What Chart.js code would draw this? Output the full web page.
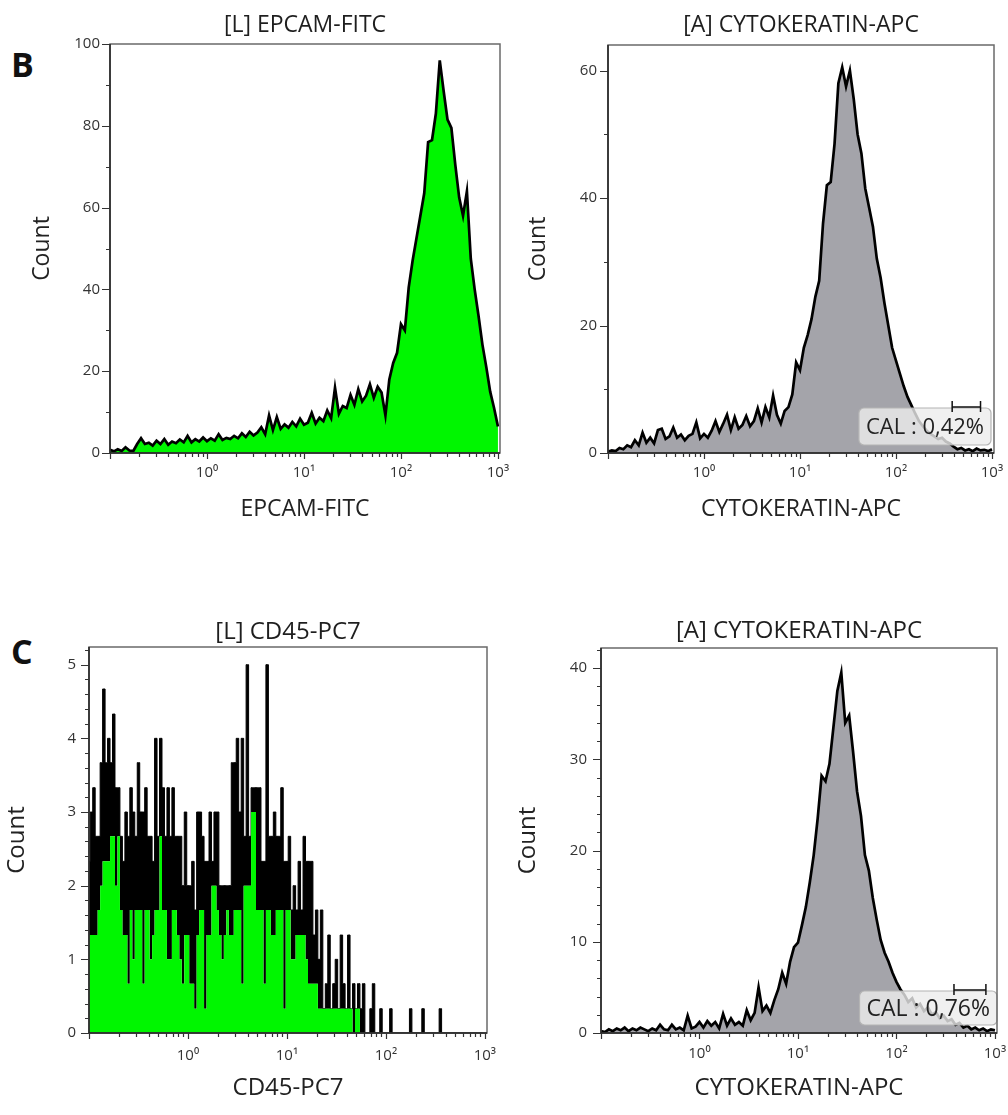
<!DOCTYPE html>
<html>
<head>
<meta charset="utf-8">
<script src="https://cdn.jsdelivr.net/npm/chart.js@4.4.1/dist/chart.umd.min.js"></script>
<style>
  html, body { margin: 0; padding: 0; background: #fff; }
  #wrap { position: relative; width: 1008px; height: 1115px; overflow: hidden; }
  canvas { position: absolute; }
  .tag { position: absolute; font: bold 34px "Open Sans", sans-serif; line-height: 1; color: #111; }
</style>
</head>
<body>
<div id="wrap">
  <div class="tag" style="left:11px; top:47px">B</div>
  <div class="tag" style="left:11px; top:634px">C</div>
  <canvas id="bLeft"></canvas>
  <canvas id="bRight"></canvas>
  <canvas id="cLeft"></canvas>
  <canvas id="cRight"></canvas>
</div>
<script>
// histograms are read off the picture, one value per bin
// smooth ones use 0.04 decade bins, CD45 uses 0.025 decade bins starting at 10^-1
const LOG_START = -1
const BIN_STEP = 0.04
const CD45_STEP = 0.025

// [L] EPCAM-FITC
const epcamCounts = [
  0.8, 0.4, 0.9, 0.5, 1.4, 0.6, 0.5, 2.2, 3.6, 2.2,
  2.5, 1.8, 3.0, 2.2, 3.4, 2.0, 2.8, 2.4, 3.3, 2.6,
  4.2, 2.6, 3.4, 2.8, 3.8, 2.9, 3.6, 3.0, 4.6, 3.2,
  3.7, 3.4, 4.2, 3.6, 4.8, 3.9, 5.2, 4.3, 5.0, 6.3,
  4.6, 9.2, 5.6, 8.8, 5.9, 7.0, 6.2, 7.6, 6.5, 8.4,
  6.9, 7.4, 9.8, 7.2, 8.6, 7.8, 10.4, 8.5, 16.0, 9.6,
  11.5, 11.0, 14.2, 11.8, 15.6, 12.6, 14.0, 16.8, 13.5, 16.2,
  14.8, 9.2, 18.0, 22.0, 24.5, 31.5, 30.0, 40.5, 47.0, 52.5,
  58.0, 63.5, 76.0, 76.5, 83.0, 96.0, 88.5, 81.5, 79.5, 70.5,
  62.5, 58.0, 64.0, 47.5, 40.0, 33.5, 26.5, 21.0, 15.0, 11.0,
  6.5
]

// [A] CYTOKERATIN-APC, panel B
const ckBCounts = [
  0.2, 0.4, 0.3, 0.8, 0.6, 1.2, 0.9, 2.0, 1.2, 3.2,
  1.6, 2.4, 1.5, 3.6, 3.8, 2.2, 2.6, 4.0, 2.4, 2.9,
  2.0, 2.7, 3.0, 4.8, 2.3, 3.0, 2.4, 3.5, 5.0, 3.3,
  4.6, 6.0, 3.6, 5.6, 3.8, 4.4, 5.8, 4.2, 5.0, 7.0,
  4.8, 7.2, 5.6, 9.0, 6.0, 4.6, 6.6, 7.2, 9.2, 14.2,
  13.0, 16.5, 18.5, 21.0, 24.5, 27.0, 36.0, 42.0, 42.5, 48.5,
  58.0, 60.5, 57.5, 60.0, 55.5, 50.0, 47.0, 41.5, 38.5, 35.5,
  30.5, 27.5, 23.5, 20.0, 16.5, 14.5, 12.5, 10.5, 8.8, 7.5,
  6.2, 5.0, 4.2, 3.5, 3.0, 2.6, 2.2, 2.4, 1.8, 1.5,
  1.0, 0.6, 0.8, 0.4, 0.6, 0.3, 0.7, 0.4, 0.5, 0.3,
  0.6
]

// [A] CYTOKERATIN-APC, panel C
const ckCCounts = [
  0.2, 0.1, 0.4, 0.2, 0.5, 0.3, 0.6, 0.2, 0.5, 0.3,
  0.6, 0.4, 0.2, 0.5, 0.3, 0.9, 0.4, 0.3, 0.9, 0.4,
  0.6, 0.3, 1.9, 0.5, 0.7, 1.2, 0.6, 1.3, 0.8, 1.2,
  0.5, 2.1, 0.8, 1.6, 0.9, 1.2, 0.8, 2.5, 1.4, 2.2,
  5.0, 2.4, 3.0, 2.2, 3.6, 4.8, 6.6, 5.4, 7.8, 9.4,
  9.9, 11.8, 13.8, 16.5, 19.5, 23.5, 28.2, 27.6, 29.5, 33.5,
  37.5, 39.5, 34.0, 34.8, 30.8, 26.5, 23.8, 19.5, 17.8, 14.8,
  12.4, 10.2, 8.8, 7.8, 6.6, 5.6, 4.8, 4.2, 3.4, 3.8,
  2.8, 3.2, 2.4, 2.8, 2.0, 2.3, 1.6, 1.9, 1.3, 1.5,
  0.9, 1.1, 0.6, 0.8, 0.4, 0.6, 0.3, 0.5, 0.2, 0.4,
  0.3
]

// [L] CD45-PC7: lowest and highest count seen inside each bin
const cd45Low = [
  1.33, 1.33, 1.33, 1.33, 1.67, 2, 2.33, 2.33, 2.33, 2.67,
  2.67, 2, 2.67, 1.67, 1.33, 1.33, 0.67, 1.67, 1, 1.67,
  1.67, 1.67, 0.67, 1.67, 1.67, 1, 1.33, 1.67, 1.67, 2.67,
  1.67, 1.67, 1, 1, 1.67, 1.67, 1.33, 1, 0.67, 1.33,
  1.33, 0.67, 0.67, 0.33, 1.33, 1.67, 1.67, 0.33, 1.33, 1.33,
  2, 2, 1.67, 1.33, 1, 1.33, 1.67, 1.33, 1.33, 1.67,
  1.67, 1.67, 0.67, 2, 2, 2, 3, 3, 1.67, 1.67,
  1.67, 0.67, 1.67, 1.67, 1.33, 1.33, 1.67, 1.67, 1.67, 0.33,
  1.67, 1.67, 1, 1, 1.33, 1.33, 1.33, 1.33, 1, 0.67,
  0.67, 0.67, 0.67, 0.33, 0.33, 0.33, 0.33, 0.33, 0.33, 0.33,
  0.33, 0.33, 0.33, 0.33, 0.33, 0.33, 0.33, 0, 0.33, 0.33,
  0, 0, 0, 0, 0, 0, 0, 0, 0, 0,
  0, 0, 0, 0, 0, 0, 0, 0, 0, 0,
  0, 0, 0, 0, 0, 0, 0, 0, 0, 0,
  0, 0, 0, 0, 0, 0, 0, 0, 0, 0,
  0, 0, 0, 0, 0, 0, 0, 0, 0, 0
]
const cd45High = [
  2.33, 3, 3.33, 2.67, 2.67, 3.67, 4.67, 3.67, 4, 3.67,
  4.33, 3.33, 3.33, 2.67, 2.33, 3, 2.67, 3.33, 3, 2.67,
  3.67, 3, 3, 3.33, 2.67, 2.67, 2.33, 4, 2.67, 4,
  3.33, 2.67, 3.33, 2.67, 3.33, 2.67, 2.67, 2.67, 2, 3,
  2, 2, 2.33, 1.67, 3, 3, 2.67, 2.33, 2.33, 3,
  2.33, 3, 3, 2, 2, 2, 2, 2, 3.67, 3.67,
  4, 3, 4, 2.67, 5, 2.67, 3.33, 3.33, 3.33, 3.33,
  2.33, 2.33, 5, 2.67, 2.67, 3, 2.67, 2.67, 3.33, 2.33,
  2.33, 2.67, 1.67, 2, 1.67, 2.33, 1.67, 2.67, 2.33, 2.33,
  2.33, 1.33, 1.67, 1, 1.67, 0.33, 0.67, 1.33, 0.33, 0.67,
  1, 0.33, 1.33, 0.67, 0.33, 1.33, 0.33, 0.67, 0.33, 0.67,
  0.33, 0.67, 0, 0, 0.33, 0.67, 0, 0, 0.33, 0,
  0, 0, 0.33, 0, 0, 0, 0, 0, 0, 0,
  0.33, 0, 0, 0, 0, 0.33, 0, 0, 0, 0,
  0, 0, 0.33, 0, 0, 0, 0, 0, 0, 0,
  0, 0, 0, 0, 0, 0, 0, 0, 0, 0
]

// x axis ticks (log scale)
const xMajorValues = [0.1, 1, 10, 100, 1000]
const xMajorLabels = ["", "10⁰", "10¹", "10²", "10³"]
const xMinorFactors = [2, 3, 4, 5, 6, 7, 8, 9]

// CAL gates
const calLabelB = "CAL : 0,42%"
const calLabelC = "CAL : 0,76%"
const calGateB = [385, 760]
const calGateC = [384, 810]

const FONT = "'Open Sans', 'DejaVu Sans', sans-serif"
const GREEN = "rgb(0,246,0)"
const GREY = "#a4a4aa"
const X_MIN = 0.1
const X_MAX = 1050

Chart.defaults.font.family = FONT

function histPoints(values, step) {
  return values.map((v, i) => ({ x: Math.pow(10, LOG_START + i * step), y: v }))
}

function xTickList() {
  const list = xMajorValues.map(v => ({ value: v }))
  xMajorValues.slice(0, -1).forEach(m => {
    xMinorFactors.forEach(f => list.push({ value: m * f }))
  })
  return list.sort((a, b) => a.value - b.value)
}

function majorIndex(v) {
  return xMajorValues.findIndex(m => Math.abs(Math.log10(v) - Math.log10(m)) < 1e-6)
}

function drawCal(ctx, a, x, cal) {
  ctx.font = cal.size + "px " + FONT
  const tw = ctx.measureText(cal.text).width
  const w = tw + 14, h = cal.height
  const right = a.right - cal.inset, bottom = a.bottom - cal.lift
  const left = right - w, top = bottom - h
  ctx.beginPath()
  ctx.roundRect(left, top, w, h, 5)
  ctx.fillStyle = "rgba(236,236,236,0.8)"
  ctx.fill()
  ctx.strokeStyle = "#b4b4b4"
  ctx.lineWidth = 1.2
  ctx.stroke()
  ctx.fillStyle = "#222"
  ctx.textAlign = "left"
  ctx.textBaseline = "middle"
  ctx.fillText(cal.text, left + 7, top + h / 2 + 1)
  // gate bracket
  const g0 = x.getPixelForValue(cal.gate[0]), g1 = x.getPixelForValue(cal.gate[1]), gy = top - 1
  ctx.strokeStyle = "#111"
  ctx.lineWidth = 1.5
  ctx.beginPath()
  ctx.moveTo(g0, gy); ctx.lineTo(g1, gy)
  ctx.moveTo(g0, gy - 6); ctx.lineTo(g0, gy + 5)
  ctx.moveTo(g1, gy - 6); ctx.lineTo(g1, gy + 5)
  ctx.stroke()
}

const panelDeco = {
  id: "panelDeco",
  afterDatasetsDraw(chart, args, o) {
    const { ctx, chartArea: a, scales: { x, y } } = chart
    ctx.save()
    if (o.cal) drawCal(ctx, a, x, o.cal)

    // frame
    ctx.lineWidth = 1.5
    ctx.strokeStyle = "#6a6a6a"
    ctx.strokeRect(a.left, a.top, a.right - a.left, a.bottom - a.top)
    ctx.strokeStyle = "#222"
    ctx.beginPath()
    ctx.moveTo(a.left, a.top); ctx.lineTo(a.left, a.bottom); ctx.lineTo(a.right, a.bottom)
    ctx.stroke()

    // tick marks
    ctx.lineWidth = 1.2
    ctx.strokeStyle = "#333"
    ctx.beginPath()
    y.ticks.forEach(t => {
      const r = t.value / o.yMajor
      const len = Math.abs(r - Math.round(r)) < 1e-6 ? 8 : 4
      const py = Math.round(y.getPixelForValue(t.value)) + 0.5
      ctx.moveTo(a.left - len, py); ctx.lineTo(a.left, py)
    })
    x.ticks.forEach(t => {
      const len = majorIndex(t.value) >= 0 ? 6 : 4
      const px = Math.round(x.getPixelForValue(t.value)) + 0.5
      ctx.moveTo(px, a.bottom); ctx.lineTo(px, a.bottom + len)
    })
    ctx.stroke()

    // panel title
    ctx.fillStyle = "#1e1e1e"
    ctx.font = o.titleSize + "px " + FONT
    ctx.textAlign = "center"
    ctx.textBaseline = "middle"
    ctx.fillText(o.title, (a.left + a.right) / 2, o.titleY)
    ctx.restore()
  }
}

function makePanel(p) {
  const canvas = document.getElementById(p.id)
  canvas.width = p.w
  canvas.height = p.h
  canvas.style.left = p.left + "px"
  canvas.style.top = p.top + "px"
  return new Chart(canvas, {
    type: "line",
    data: { datasets: p.datasets },
    options: {
      responsive: false,
      animation: false,
      devicePixelRatio: 1,
      layout: { padding: { top: p.area.t, right: p.w - p.area.r, left: 0, bottom: 0 } },
      elements: { point: { radius: 0 }, line: { tension: 0 } },
      plugins: {
        legend: { display: false },
        tooltip: { enabled: false },
        panelDeco: { title: p.title, titleY: p.titleY, titleSize: p.fontSize, yMajor: p.yMajor, cal: p.cal }
      },
      scales: {
        x: {
          type: "logarithmic",
          min: X_MIN,
          max: X_MAX,
          afterBuildTicks: s => { s.ticks = xTickList() },
          afterFit: s => { s.height = p.h - p.area.b },
          grid: { display: false, drawTicks: false },
          border: { display: false },
          ticks: {
            autoSkip: false, maxRotation: 0, padding: p.xPad, color: "#333",
            font: { size: 15 },
            callback: v => { const k = majorIndex(v); return k >= 0 ? xMajorLabels[k] : "" }
          },
          title: { display: true, text: p.xTitle, color: "#222", font: { size: p.fontSize }, padding: { top: 0, bottom: p.xTitlePad } }
        },
        y: {
          type: "linear",
          min: 0,
          max: p.yMax,
          afterFit: s => { s.width = p.area.l },
          grid: { display: false, drawTicks: false },
          border: { display: false },
          ticks: {
            stepSize: p.yMinor, includeBounds: false, autoSkip: false, padding: p.yPad, color: "#333",
            font: { size: 15 },
            callback: v => { const r = v / p.yMajor; return Math.abs(r - Math.round(r)) < 1e-6 ? String(Math.round(v)) : "" }
          },
          title: { display: true, text: "Count", color: "#222", font: { size: p.fontSize }, padding: { top: p.yTitlePad, bottom: 0 } }
        }
      }
    },
    plugins: [panelDeco]
  })
}

function smoothSet(values, fillColor) {
  return {
    data: histPoints(values, BIN_STEP),
    fill: "origin",
    backgroundColor: fillColor,
    borderColor: "#000",
    borderWidth: 2.7,
    borderJoinStyle: "miter"
  }
}

makePanel({
  id: "bLeft", left: 0, top: 0, w: 540, h: 540,
  area: { l: 110, t: 44, r: 500, b: 453 },
  title: "[L] EPCAM-FITC", titleY: 25.5, fontSize: 23,
  xTitle: "EPCAM-FITC", xTitlePad: 17, yTitlePad: 29, xPad: 11, yPad: 10,
  yMax: 100, yMinor: 10, yMajor: 20,
  datasets: [smoothSet(epcamCounts, GREEN)]
})

makePanel({
  id: "bRight", left: 504, top: 0, w: 540, h: 540,
  area: { l: 104, t: 45, r: 490, b: 453 },
  title: "[A] CYTOKERATIN-APC", titleY: 25, fontSize: 23,
  xTitle: "CYTOKERATIN-APC", xTitlePad: 17, yTitlePad: 21, xPad: 11, yPad: 11,
  yMax: 64, yMinor: 10, yMajor: 20,
  cal: { text: calLabelB, gate: calGateB, size: 22, height: 37, inset: 3, lift: 8 },
  datasets: [smoothSet(ckBCounts, GREY)]
})

makePanel({
  id: "cLeft", left: 0, top: 580, w: 540, h: 535,
  area: { l: 89, t: 67, r: 487, b: 453 },
  title: "[L] CD45-PC7", titleY: 52, fontSize: 24,
  xTitle: "CD45-PC7", xTitlePad: 12, yTitlePad: 3, xPad: 14, yPad: 13,
  yMax: 5.24, yMinor: 0.2, yMajor: 1,
  datasets: [
    {
      data: histPoints(cd45Low, CD45_STEP),
      stepped: "middle",
      fill: "origin",
      backgroundColor: GREEN,
      borderColor: "transparent",
      borderWidth: 1
    },
    {
      data: histPoints(cd45High, CD45_STEP),
      stepped: "middle",
      fill: "-1",
      backgroundColor: "#000",
      borderColor: "#000",
      borderWidth: 1
    }
  ]
})

makePanel({
  id: "cRight", left: 504, top: 580, w: 540, h: 535,
  area: { l: 97, t: 68, r: 493, b: 453 },
  title: "[A] CYTOKERATIN-APC", titleY: 51, fontSize: 24,
  xTitle: "CYTOKERATIN-APC", xTitlePad: 12, yTitlePad: 10, xPad: 12, yPad: 14,
  yMax: 42.2, yMinor: 2, yMajor: 10,
  cal: { text: calLabelC, gate: calGateC, size: 23, height: 34, inset: 0, lift: 8 },
  datasets: [smoothSet(ckCCounts, GREY)]
})
</script>
</body>
</html>
